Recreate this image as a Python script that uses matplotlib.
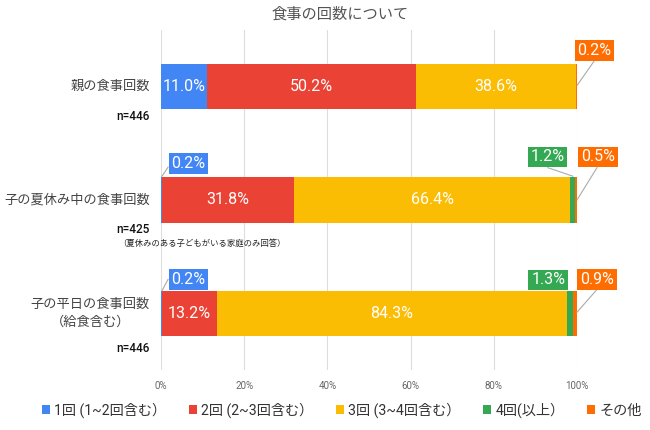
import matplotlib
matplotlib.use('Agg')
import matplotlib.pyplot as plt
import matplotlib.transforms as mtransforms
import numpy as np

plt.rcParams['font.family'] = ['Roboto', 'Noto Sans CJK JP', 'DejaVu Sans']

# data
categories = ['親の食事回数', '子の夏休み中の食事回数', '子の平日の食事回数\n（給食含む）']
n_labels = ['n=446', 'n=425', 'n=446']
series = ['1回 (1~2回含む）', '2回 (2~3回含む）', '3回 (3~4回含む）', '4回(以上）', 'その他']
once = [11.0, 0.2, 0.2]
twice = [50.2, 31.8, 13.2]
three = [38.6, 66.4, 84.3]
four = [0.0, 1.2, 1.3]
other = [0.2, 0.5, 0.9]
colors = ['#4285F4', '#EA4335', '#FBBC04', '#34A853', '#FF6D01']
note = '（夏休みのある子どもがいる家庭のみ回答）'

values = np.array([once, twice, three, four, other])

fig = plt.figure(figsize=(6.5, 4.3), dpi=100)
ax = fig.add_axes([161 / 650, 1 - 370 / 430, 416 / 650, 340 / 430])

y = np.arange(len(categories))
left = np.zeros(len(categories))
bars = []
for i, (name, col) in enumerate(zip(series, colors)):
    b = ax.barh(y, values[i], left=left, height=0.4, color=col, label=name, zorder=2)
    bars.append(b)
    for j in range(len(categories)):
        v = values[i][j]
        if v >= 10:
            ax.text(left[j] + v / 2, y[j], f'{v:.1f}%', ha='center', va='center',
                    color='white', fontsize=11.5, zorder=3)
    left = left + values[i]

# callouts for small segments: (series index, row, box center, line start, line end)
callouts = [
    (4, 0, (104.2, -0.32), (104.1, -0.225), (100.0, -0.01)),
    (0, 1, (6.6, 0.68), (1.7, 0.71), (0.25, 0.79)),
    (3, 1, (92.9, 0.62), (93.0, 0.715), (99.0, 0.79)),
    (4, 1, (105.0, 0.62), (104.8, 0.715), (100.0, 1.0)),
    (0, 2, (6.6, 1.70), (1.7, 1.70), (0.25, 1.80)),
    (3, 2, (93.1, 1.705), None, None),
    (4, 2, (104.8, 1.70), (104.8, 1.79), (100.0, 1.99)),
]
for si, row, (bx, by), p0, p1 in callouts:
    if p0 is not None:
        ax.plot([p0[0], p1[0]], [p0[1], p1[1]], color='#aaaaaa', lw=0.8,
                zorder=4, clip_on=False)
    ax.text(bx, by, f'{values[si][row]:.1f}%', ha='center', va='center',
            color='white', fontsize=11.5, zorder=5, clip_on=False,
            bbox=dict(boxstyle='square,pad=0.18', fc=colors[si], ec='none'))

ax.set_xlim(0, 100)
ax.set_ylim(2.5, -0.5)
ax.set_xticks(np.arange(0, 101, 20))
ax.set_xticklabels([f'{t}%' for t in range(0, 101, 20)])
ax.tick_params(axis='x', length=0, labelsize=7, labelcolor='#666666', pad=8)
ax.set_yticks([])
ax.grid(axis='x', color='#dddddd', lw=0.8, zorder=0)
for s in ax.spines.values():
    s.set_visible(False)

trans = mtransforms.blended_transform_factory(fig.transFigure, ax.transData)
for j, cat in enumerate(categories):
    ax.text(150 / 650, y[j], cat, transform=trans, ha='right', va='center',
            multialignment='center', fontsize=9.5, color='#444444', linespacing=1.5)
ax.text(150 / 650, (117 - 87) / 113.5, n_labels[0], transform=trans, ha='right',
        va='center', fontsize=8.5, color='#111111', fontweight='medium')
ax.text(150 / 650, (230 - 87) / 113.5, n_labels[1], transform=trans, ha='right',
        va='center', fontsize=8.5, color='#111111', fontweight='medium')
ax.text(118 / 650, (243 - 87) / 113.5, note, transform=trans, ha='left',
        va='center', fontsize=6, color='#222222')
ax.text(150 / 650, (349 - 87) / 113.5, n_labels[2], transform=trans, ha='right',
        va='center', fontsize=8.5, color='#111111', fontweight='medium')

fig.text(340 / 650, 1 - 14 / 430, '食事の回数について', ha='center', va='center',
         fontsize=11, color='#555555')

fig.legend(handles=bars, labels=series, loc='center', bbox_to_anchor=(0.526, 1 - 410 / 430),
           ncol=5, frameon=False, fontsize=10.2, handlelength=0.55, handleheight=0.55,
           handletextpad=0.3, columnspacing=1.6, labelcolor='#333333')

fig.savefig('out.png', dpi=100)
